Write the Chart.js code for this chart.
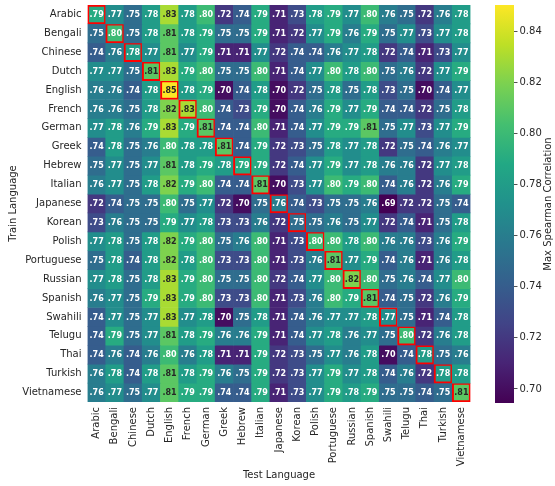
<!DOCTYPE html>
<html>
<head>
<meta charset="utf-8">
<title>Max Spearman Correlation by train and test language</title>
<script src="https://cdn.jsdelivr.net/npm/chart.js@4.4.1/dist/chart.umd.min.js"></script>
<style>
  html, body { margin: 0; padding: 0; background: #fff; }
  #wrap { position: relative; width: 555px; height: 486px; overflow: hidden; }
  #heat { position: absolute; left: 0; top: 0; }
  #cbar { position: absolute; left: 480px; top: 0; }
</style>
</head>
<body>
<div id="wrap">
  <canvas id="heat" width="480" height="486"></canvas>
  <canvas id="cbar" width="75" height="486"></canvas>
</div>
<script>
// Languages: rows are the training language, columns the test language
const trainLangs = ['Arabic', 'Bengali', 'Chinese', 'Dutch', 'English', 'French', 'German', 'Greek', 'Hebrew', 'Italian', 'Japanese', 'Korean', 'Polish', 'Portuguese', 'Russian', 'Spanish', 'Swahili', 'Telugu', 'Thai', 'Turkish', 'Vietnamese'];
const testLangs = trainLangs.slice();

// Max Spearman correlation, one array per training language (columns in testLangs order)
const rowArabic     = [.79, .77, .75, .78, .83, .78, .80, .72, .74, .79, .71, .73, .78, .79, .77, .80, .76, .75, .72, .76, .78];
const rowBengali    = [.75, .80, .75, .78, .81, .78, .79, .75, .75, .79, .71, .72, .77, .79, .76, .79, .75, .77, .73, .77, .78];
const rowChinese    = [.74, .76, .78, .77, .81, .77, .79, .71, .71, .77, .72, .74, .74, .76, .77, .78, .72, .74, .71, .73, .77];
const rowDutch      = [.77, .77, .75, .81, .83, .79, .80, .75, .75, .80, .71, .74, .77, .80, .78, .80, .75, .76, .72, .77, .79];
const rowEnglish    = [.76, .76, .74, .78, .85, .78, .79, .70, .74, .78, .70, .72, .75, .78, .75, .78, .73, .75, .70, .74, .77];
const rowFrench     = [.76, .76, .75, .78, .82, .83, .80, .74, .73, .79, .70, .74, .76, .79, .77, .79, .74, .74, .72, .75, .78];
const rowGerman     = [.77, .78, .76, .79, .83, .79, .81, .74, .74, .80, .71, .74, .77, .79, .79, .81, .75, .77, .73, .77, .79];
const rowGreek      = [.74, .78, .75, .76, .80, .78, .78, .81, .74, .79, .72, .73, .75, .78, .77, .78, .72, .75, .74, .76, .77];
const rowHebrew     = [.75, .77, .75, .77, .81, .78, .79, .78, .79, .79, .72, .74, .77, .79, .77, .78, .76, .76, .72, .77, .78];
const rowItalian    = [.76, .77, .75, .78, .82, .79, .80, .74, .74, .81, .70, .73, .77, .80, .79, .80, .74, .76, .72, .76, .79];
const rowJapanese   = [.72, .74, .75, .75, .80, .75, .77, .72, .70, .75, .76, .74, .73, .75, .75, .76, .69, .72, .72, .75, .74];
const rowKorean     = [.73, .76, .75, .75, .79, .77, .78, .73, .73, .76, .72, .75, .75, .76, .75, .77, .72, .74, .71, .75, .78];
const rowPolish     = [.77, .78, .75, .78, .82, .79, .80, .75, .76, .80, .71, .73, .80, .80, .78, .80, .76, .76, .73, .76, .79];
const rowPortuguese = [.75, .78, .74, .78, .82, .78, .80, .73, .73, .80, .71, .73, .76, .81, .77, .79, .74, .76, .71, .76, .78];
const rowRussian    = [.77, .78, .75, .78, .83, .79, .80, .75, .75, .80, .72, .74, .77, .80, .82, .80, .75, .76, .74, .77, .80];
const rowSpanish    = [.76, .77, .75, .79, .83, .79, .80, .73, .73, .80, .71, .73, .76, .80, .79, .81, .74, .75, .72, .76, .79];
const rowSwahili    = [.74, .77, .75, .77, .83, .77, .78, .70, .75, .78, .71, .74, .76, .77, .77, .78, .77, .75, .71, .74, .78];
const rowTelugu     = [.74, .79, .75, .77, .81, .78, .79, .76, .76, .79, .71, .74, .77, .78, .76, .77, .75, .80, .72, .76, .78];
const rowThai       = [.74, .76, .74, .76, .80, .76, .78, .71, .71, .79, .72, .73, .75, .77, .76, .78, .70, .74, .78, .75, .76];
const rowTurkish    = [.76, .78, .74, .78, .81, .78, .79, .76, .75, .79, .72, .73, .77, .79, .77, .78, .74, .76, .72, .78, .78];
const rowVietnamese = [.76, .77, .75, .77, .81, .79, .79, .74, .74, .79, .71, .73, .77, .79, .78, .79, .75, .75, .74, .75, .81];

const scoreRows = [rowArabic, rowBengali, rowChinese, rowDutch, rowEnglish, rowFrench, rowGerman, rowGreek, rowHebrew, rowItalian, rowJapanese, rowKorean, rowPolish, rowPortuguese, rowRussian, rowSpanish, rowSwahili, rowTelugu, rowThai, rowTurkish, rowVietnamese];

// Colour scale limits and colour bar ticks
const colorMin = 0.6945;
const colorMax = 0.8502;
const colorTicks = [0.70, 0.72, 0.74, 0.76, 0.78, 0.80, 0.82, 0.84];
const colorbarTitle = 'Max Spearman Correlation';

const FONT = '"DejaVu Sans", sans-serif';
const INK = '#262626';

// viridis colormap anchors
const VIRIDIS = ['#440154', '#482475', '#414487', '#355f8d', '#2a788e', '#21918c', '#22a884', '#44bf70', '#7ad151', '#bddf26', '#fde725'];
const hexRgb = h => [1, 3, 5].map(i => parseInt(h.slice(i, i + 2), 16));
const VIR_RGB = VIRIDIS.map(hexRgb);

function viridisRgb(t) {
  t = Math.min(1, Math.max(0, t));
  const p = t * (VIR_RGB.length - 1);
  const i = Math.min(VIR_RGB.length - 2, Math.floor(p));
  const f = p - i;
  return VIR_RGB[i].map((c, k) => Math.round(c + (VIR_RGB[i + 1][k] - c) * f));
}
const norm = v => (v - colorMin) / (colorMax - colorMin);
const cellRgb = v => viridisRgb(norm(v));
const rgbStr = c => `rgb(${c[0]},${c[1]},${c[2]})`;

function luminance(c) {
  const lin = c.map(x => {
    x /= 255;
    return x <= 0.03928 ? x / 12.92 : Math.pow((x + 0.055) / 1.055, 2.4);
  });
  return 0.2126 * lin[0] + 0.7152 * lin[1] + 0.0722 * lin[2];
}

// One floating-bar dataset per training language; each bar spans one row band
const datasets = scoreRows.map((row, r) => ({
  label: trainLangs[r],
  data: row.map(() => [r - 0.5, r + 0.5]),
  scores: row,
  backgroundColor: row.map(v => rgbStr(cellRgb(v))),
  borderColor: row.map((v, c) => c === r ? '#ff0000' : 'rgba(0,0,0,0)'),
  borderWidth: row.map((v, c) => c === r ? 2 : 0),
  borderSkipped: false,
  barPercentage: 1,
  categoryPercentage: 1,
  grouped: false
}));

// Writes each cell's value in the middle of its bar
const cellLabels = {
  id: 'cellLabels',
  afterDatasetsDraw(chart) {
    const { ctx, scales: { x, y } } = chart;
    ctx.save();
    ctx.font = `bold 8px ${FONT}`;
    ctx.textAlign = 'center';
    ctx.textBaseline = 'middle';
    chart.data.datasets.forEach((ds, r) => {
      ds.scores.forEach((v, c) => {
        const px = x.getPixelForValue(c);
        const py = y.getPixelForValue(r);
        ctx.fillStyle = luminance(cellRgb(v)) > 0.408 ? INK : '#ffffff';
        ctx.fillText(v.toFixed(2).replace(/^0/, ''), px, py + 0.5);
      });
    });
    ctx.restore();
  }
};

new Chart(document.getElementById('heat'), {
  type: 'bar',
  data: { labels: testLangs, datasets },
  options: {
    responsive: false,
    animation: false,
    events: [],
    layout: { padding: { left: 0, top: 5, right: 9.5, bottom: 0 } },
    plugins: { legend: { display: false }, tooltip: { enabled: false } },
    scales: {
      x: {
        type: 'category',
        offset: true,
        grid: { display: false, drawTicks: false },
        border: { display: false },
        ticks: {
          autoSkip: false, minRotation: 90, maxRotation: 90, padding: 5,
          color: INK, font: { family: FONT, size: 10 }
        },
        title: {
          display: true, text: 'Test Language', color: INK,
          font: { family: FONT, size: 10 }, padding: { top: 0, bottom: 5 }
        },
        afterFit(s) { s.height = 84; s.paddingLeft = 0; s.paddingRight = 0; }
      },
      y: {
        type: 'linear',
        reverse: true,
        min: -0.5,
        max: 20.5,
        grid: { display: false, drawTicks: false },
        border: { display: false },
        afterBuildTicks(s) { s.ticks = trainLangs.map((_, i) => ({ value: i })); },
        ticks: {
          autoSkip: false, padding: 6, color: INK, font: { family: FONT, size: 10 },
          callback: v => trainLangs[v]
        },
        title: {
          display: true, text: 'Train Language', color: INK,
          font: { family: FONT, size: 10 }, padding: { top: 7, bottom: 0 }
        },
        afterFit(s) { s.width = 87.5; s.paddingTop = 0; s.paddingBottom = 0; }
      }
    }
  },
  plugins: [cellLabels]
});

// Colour bar: a single floating bar filled with the viridis gradient
function barGradient(context) {
  const chart = context.chart;
  const area = chart.chartArea;
  if (!area) return VIRIDIS[5];
  const ys = chart.scales.y;
  const g = chart.ctx.createLinearGradient(0, ys.getPixelForValue(colorMin), 0, ys.getPixelForValue(colorMax));
  VIRIDIS.forEach((c, i) => g.addColorStop(i / (VIRIDIS.length - 1), c));
  return g;
}

// Colour bar label, reading bottom to top beside the tick labels
const colorbarLabel = {
  id: 'colorbarLabel',
  afterDraw(chart) {
    const { ctx, chartArea } = chart;
    ctx.save();
    ctx.translate(68, (chartArea.top + chartArea.bottom) / 2);
    ctx.rotate(-Math.PI / 2);
    ctx.font = `10px ${FONT}`;
    ctx.fillStyle = INK;
    ctx.textAlign = 'center';
    ctx.textBaseline = 'middle';
    ctx.fillText(colorbarTitle, 0, 0);
    ctx.restore();
  }
};

new Chart(document.getElementById('cbar'), {
  type: 'bar',
  data: {
    labels: [''],
    datasets: [{
      data: [[colorMin, colorMax]],
      backgroundColor: barGradient,
      borderWidth: 0,
      inflateAmount: 0,
      barPercentage: 1,
      categoryPercentage: 1
    }]
  },
  options: {
    responsive: false,
    animation: false,
    events: [],
    layout: { padding: { left: 15, top: 5, right: 0, bottom: 83 } },
    plugins: { legend: { display: false }, tooltip: { enabled: false } },
    scales: {
      x: { display: false },
      y: {
        type: 'linear',
        position: 'right',
        min: colorMin,
        max: colorMax,
        grid: { display: true, drawOnChartArea: false, drawTicks: true, tickLength: 3.5, color: INK, lineWidth: 0.8 },
        border: { display: false },
        afterBuildTicks(s) { s.ticks = colorTicks.map(v => ({ value: v })); },
        ticks: {
          autoSkip: false, padding: 2, color: INK, font: { family: FONT, size: 10 },
          callback: v => v.toFixed(2)
        },
        afterFit(s) { s.width = 41; s.paddingTop = 0; s.paddingBottom = 0; }
      }
    }
  },
  plugins: [colorbarLabel]
});
</script>
</body>
</html>
